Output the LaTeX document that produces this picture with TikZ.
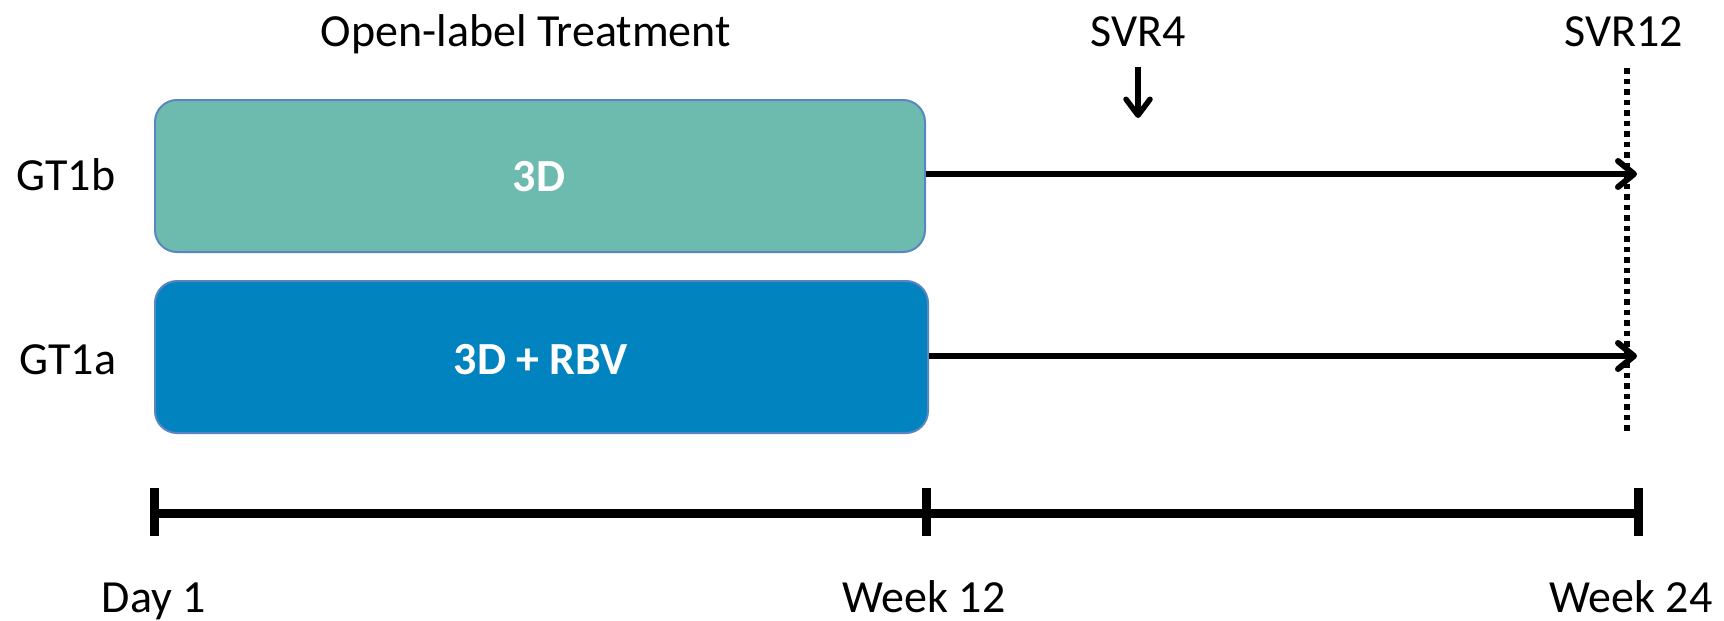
\documentclass[tikz,border=0pt]{standalone}
\usepackage{fontspec}
\setmainfont{Carlito}
\usetikzlibrary{arrows.meta}
\definecolor{tealfill}{HTML}{6DBBAF}
\definecolor{bluefill}{HTML}{0083BE}
\definecolor{boxborder}{HTML}{5B85C0}
\begin{document}
\begin{tikzpicture}[x=1pt,y=-1pt,
  lbl/.style={anchor=base,font=\fontsize{46}{50}\selectfont,inner sep=0pt},
  armbox/.style={draw=boxborder,line width=2pt,rounded corners=22pt,minimum width=770pt,minimum height=152pt,anchor=north west,inner sep=0pt},
  armtext/.style={anchor=base,font=\fontsize{46}{50}\selectfont\bfseries,text=white,inner sep=0pt},
  fup/.style={line width=6pt,-{Straight Barb[length=16pt,width=26pt,line width=6pt,round]}},
  tl/.style={line width=9pt},
  tick/.style={line width=9pt}]
\useasboundingbox (0,0) rectangle (1724,621);
% boxes
\node[armbox,fill=tealfill] (b1) at (154,99) {};
\node[armbox,fill=bluefill,minimum width=773pt] (b2) at (154,280) {};
\node[armtext] (t1) at (539,191) {3D};
\node[armtext] (t2) at (541,374) {3D + RBV};
% row labels
\node[lbl] (g1) at (66,190) {GT1b};
\node[lbl] (g2) at (68,374) {GT1a};
% top labels
\node[lbl] (olt) at (526,46) {Open-label Treatment};
\node[lbl] (s4) at (1138,46) {SVR4};
\node[lbl] (s12) at (1624,46) {SVR12};
% SVR12 dotted line
\coordinate (dtop) at (1627,68);
\coordinate (dbot) at (1627,432);
\draw[line width=5.5pt,dash pattern=on 5.5pt off 5pt] (dtop) -- (dbot);
% SVR4 arrow
\coordinate (s4a) at (1138,67);
\coordinate (s4b) at (1138,118);
\draw[line width=5.5pt,-{Straight Barb[length=16pt,width=24pt,line width=5.5pt,round]}] (s4a) -- (s4b);
% follow-up arrows
\coordinate (e1) at (1637,174);
\coordinate (e2) at (1637,356);
\draw[fup] (b1.east |- e1) -- (e1);
\draw[fup] (b2.east |- e2) -- (e2);
% timeline
\coordinate (d1) at (154,513);
\coordinate (w12) at (926,513);
\coordinate (w24) at (1638,513);
\draw[tl] (d1) -- (w24);
\foreach \p in {d1,w12,w24} \draw[tick] ([yshift=-23pt]\p) -- ([yshift=25pt]\p);
\node[lbl] (ld1) at (154,612) {Day 1};
\node[lbl] (lw12) at (924,612) {Week 12};
\node[lbl] (lw24) at (1631,612) {Week 24};
\end{tikzpicture}
\end{document}
